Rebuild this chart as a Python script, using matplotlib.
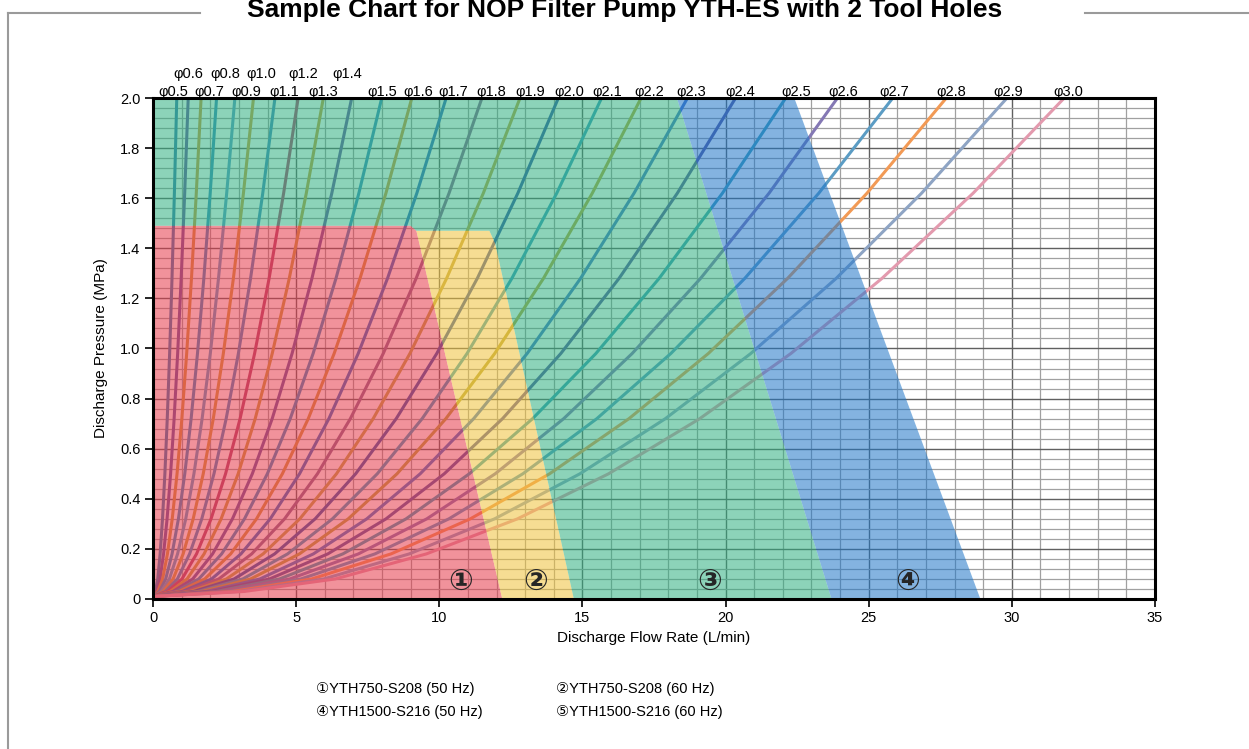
import numpy as np
import matplotlib
matplotlib.use("Agg")
import matplotlib.pyplot as plt
from matplotlib.lines import Line2D
from matplotlib.patches import Polygon
from matplotlib.ticker import MultipleLocator, FuncFormatter

plt.rcParams['font.family'] = ['Liberation Sans', 'DejaVu Sans', 'Noto Sans CJK JP']

# nozzle diameters (mm) and flow (L/min) where each curve reaches 2.0 MPa
diameters = [0.5, 0.6, 0.7, 0.8, 0.9, 1.0, 1.1, 1.2, 1.3, 1.4, 1.5, 1.6, 1.7,
             1.8, 1.9, 2.0, 2.1, 2.2, 2.3, 2.4, 2.5, 2.6, 2.7, 2.8, 2.9, 3.0]
flow_at_top = [0.83, 1.23, 1.68, 2.22, 2.86, 3.51, 4.26, 5.07, 5.95, 6.94, 7.99,
               9.04, 10.24, 11.49, 12.82, 14.16, 15.67, 17.05, 18.67, 20.35,
               22.10, 23.91, 25.84, 27.71, 29.83, 31.83]

# curve shape: pressure vs share of the flow at 2.0 MPa
ref_pressure = [0.01, 0.03, 0.08, 0.18, 0.32, 0.50, 0.72, 0.98, 1.28, 1.62, 2.00]
ref_flow_share = [0.0, 0.1, 0.2, 0.3, 0.4, 0.5, 0.6, 0.7, 0.8, 0.9, 1.0]

line_colors = ['#3f7fb0', '#6a5aa0', '#d09a40', '#3f8fc0', '#5f9fc8', '#d0a040',
               '#4a8cc0', '#b04a70', '#c8a040', '#6a5aa0', '#3f8fc0', '#d09a40',
               '#3a70c0', '#8a6a90', '#c0a848', '#3a5aa8', '#3f9fc0', '#b8a840',
               '#4a78c8', '#5a5aa0', '#3f9fb8', '#8478b4', '#5b9cc4', '#f29a55',
               '#8ea4c4', '#e39aae']

# label placement above the frame (flow position, row)
label_x = [0.70, 1.22, 1.96, 2.51, 3.25, 3.80, 4.58, 5.24, 5.94, 6.77, 8.02,
           9.26, 10.48, 11.80, 13.19, 14.53, 15.88, 17.32, 18.79, 20.51, 22.46,
           24.10, 25.90, 27.90, 29.86, 31.96]
label_row = [0, 1, 0, 1, 0, 1, 0, 1, 0, 1, 0, 0, 0, 0, 0, 0, 0, 0, 0, 0, 0, 0,
             0, 0, 0, 0]

# operating ranges of the pumps
zone_red = [(0, 0), (0, 1.49), (9.0, 1.49), (9.2, 1.47), (12.2, 0)]
zone_yellow = [(12.2, 0), (9.2, 1.47), (11.75, 1.47), (11.95, 1.42), (14.7, 0)]
zone_green = [(0, 1.49), (0, 2.0), (18.3, 2.0), (23.7, 0), (14.7, 0),
              (11.95, 1.42), (11.75, 1.47), (9.2, 1.47), (9.0, 1.49)]
zone_blue = [(18.3, 2.0), (22.4, 2.0), (28.9, 0), (23.7, 0)]
zone_colors = ['#e6394a', '#f0c23a', '#2eaf80', '#1f76c8']
zone_marks = ['①', '②', '③', '④']
zone_mark_x = [10.75, 13.35, 19.45, 26.35]

legend_lines = [('①YTH750-S208 (50 Hz)', '②YTH750-S208 (60 Hz)'),
                ('④YTH1500-S216 (50 Hz)', '⑤YTH1500-S216 (60 Hz)')]

W, H = 1249, 749
fig = plt.figure(figsize=(W / 100, H / 100), dpi=100)
ax = fig.add_axes([153 / W, 1 - 599 / H, (1155 - 153) / W, (599 - 98) / H])

ax.set_xlim(0, 35)
ax.set_ylim(0, 2.0)

# grid
ax.xaxis.set_major_locator(MultipleLocator(5))
ax.xaxis.set_minor_locator(MultipleLocator(1))
ax.yaxis.set_major_locator(MultipleLocator(0.2))
ax.yaxis.set_minor_locator(MultipleLocator(0.04))
ax.grid(which='minor', color='#a0a0a0', lw=0.9, zorder=0)
ax.grid(which='major', color='#606060', lw=1.0, zorder=0)
ax.set_axisbelow(True)

for i in range(len(diameters)):
    q = [s * flow_at_top[i] for s in ref_flow_share]
    ax.plot(q, ref_pressure, color=line_colors[i], lw=2.2, zorder=2,
            solid_capstyle='round')

for pts, c in zip([zone_red, zone_yellow, zone_green, zone_blue], zone_colors):
    ax.add_patch(Polygon(pts, closed=True, facecolor=c, edgecolor='none',
                         alpha=0.55, zorder=3))

for m, x in zip(zone_marks, zone_mark_x):
    ax.text(x, 0.07, m, ha='center', va='center', fontsize=21, color='#262626',
            family=['DejaVu Sans'], weight='bold', zorder=5)

trans = ax.get_xaxis_transform()
for d, x, r in zip(diameters, label_x, label_row):
    ax.text(x, 1.012 + 0.036 * r, 'φ%.1f' % d, transform=trans, ha='center',
            va='center', fontsize=10.5, clip_on=False)

ax.tick_params(which='minor', length=0)
ax.tick_params(which='major', direction='out', length=6, width=1.2,
               labelsize=10.5, pad=3)
ax.yaxis.set_major_formatter(FuncFormatter(lambda v, p: '0' if v == 0 else '%.1f' % v))
for s in ax.spines.values():
    s.set_linewidth(2.2)
    s.set_color('black')
    s.set_zorder(6)

ax.set_xlabel('Discharge Flow Rate (L/min)', fontsize=11, labelpad=4)
ax.set_ylabel('Discharge Pressure (MPa)', fontsize=11, labelpad=9)

# title and outer frame lines
fig.text(625 / W, 1 - 10 / H, 'Sample Chart for NOP Filter Pump YTH-ES with 2 Tool Holes',
         ha='center', va='center', fontsize=19, weight='bold')
gray = '#9a9a9a'
fig.add_artist(Line2D([8 / W, 200 / W], [1 - 13 / H, 1 - 13 / H], color=gray, lw=1.5))
fig.add_artist(Line2D([1085 / W, 1], [1 - 13 / H, 1 - 13 / H], color=gray, lw=1.5))
fig.add_artist(Line2D([8 / W, 8 / W], [1 - 13 / H, 0], color=gray, lw=1.5))

for row, (left, right) in enumerate(legend_lines):
    y = 1 - (689 + 23 * row) / H
    fig.text(316 / W, y, left, ha='left', va='center', fontsize=10.5)
    fig.text(556 / W, y, right, ha='left', va='center', fontsize=10.5)

fig.savefig('out.png', dpi=100)
